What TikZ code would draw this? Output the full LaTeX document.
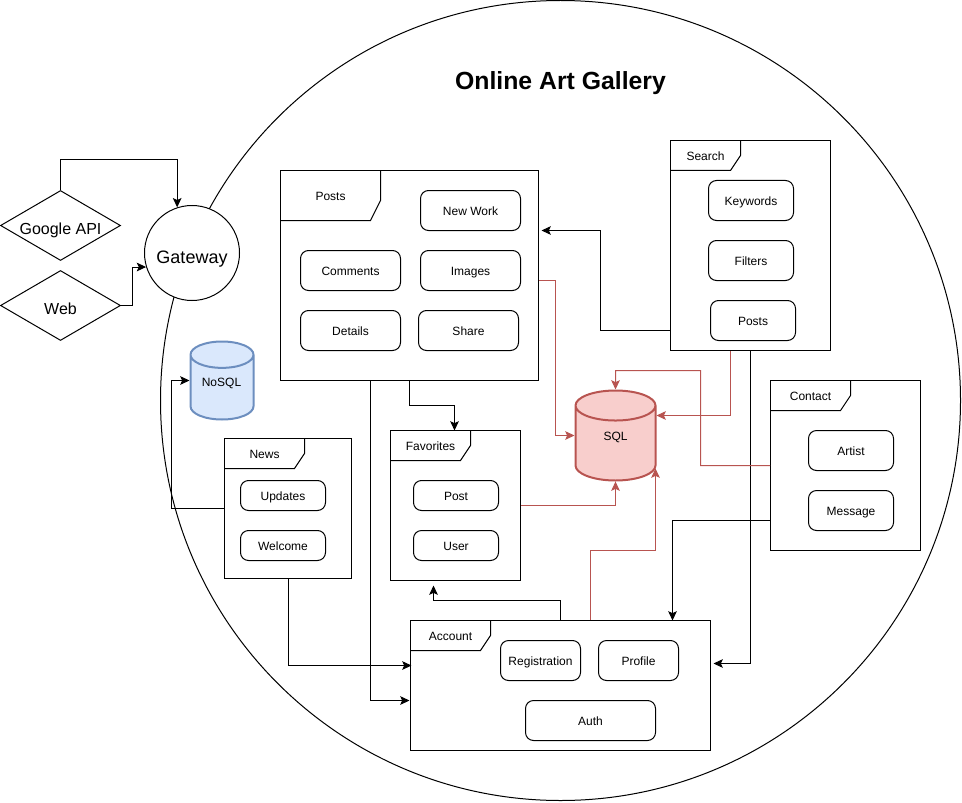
\documentclass[tikz,border=0pt]{standalone}
\usepackage{fontspec}
\setmainfont{Liberation Sans}
\usetikzlibrary{arrows.meta,shapes.geometric}
\definecolor{sqlred}{HTML}{B85450}
\definecolor{sqlfill}{HTML}{F8CECC}
\definecolor{nosqlblue}{HTML}{6C8EBF}
\definecolor{nosqlfill}{HTML}{DAE8FC}
\tikzset{
  small/.style={inner sep=0pt, font=\fontsize{9}{11}\selectfont, text height=7.8pt, text depth=1pt},
  panel/.style 2 args={draw, fill=white, inner sep=0pt, minimum width=#1*0.75pt, minimum height=#2*0.75pt},
  item/.style 2 args={draw, fill=white, rounded corners=6pt, small, minimum width=#1*0.75pt, minimum height=#2*0.75pt},
  entry/.style={diamond, draw, fill=white, inner sep=0pt, aspect=1.71, minimum width=90pt, minimum height=52.5pt, font=\fontsize{12}{14}\selectfont, text height=14.2pt, text depth=0pt},
  store/.style 2 args={cylinder, shape border rotate=90, anchor=shape center, aspect=#2, line width=1.5pt, inner sep=0pt, font=\fontsize{9}{11}\selectfont, minimum width=#1*0.75pt},
  conn/.style={-{Stealth[length=7pt,width=6.5pt,inset=1.5pt]}},
  redconn/.style={conn, sqlred},
}
\begin{document}
\begin{tikzpicture}[x=0.75pt, y=-0.75pt, line width=0.75pt]
\useasboundingbox (-0.5,-0.5) rectangle (961.5,801.5);
\node[circle, draw, inner sep=0pt, minimum size=600pt] (gallery) at (560,400) {};
\node[font=\bfseries\fontsize{18.6}{22}\selectfont, inner sep=0pt] (title) at (560,82.5) {Online Art Gallery};

\node[entry] (google) at (60,225) {Google API};
\node[entry] (web) at (60,305) {Web};
\node[circle, draw, fill=white, inner sep=0pt, minimum size=71.25pt, font=\fontsize{13.5}{16}\selectfont, text height=15.4pt, text depth=0pt] (gateway) at (191.5,252.5) {Gateway};

\node[store={63}{0.67}, draw=nosqlblue, fill=nosqlfill, minimum height=58.5pt] (nosql) at (221.5,380) {\phantom{NoSQL}};
\node[small] (nosqltext) at (221,381) {NoSQL};
\node[store={80}{1.25}, draw=sqlred, fill=sqlfill, minimum height=67.5pt] (sql) at (615,435) {\phantom{SQL}};
\node[small] (sqltext) at (615,435) {SQL};

% posts
\node[panel={258}{210}] (posts) at (409,275) {};
\draw (380,170) -- (380,200) -- (370,220) -- (280,220);
\node[small] (poststab) at (330,195) {Posts};
\node[item={100}{40}] (newwork) at (470,210) {New Work};
\node[item={100}{40}] (comments) at (350,270) {Comments};
\node[item={100}{40}] (images) at (470,270) {Images};
\node[item={100}{40}] (details) at (350,330) {Details};
\node[item={100}{40}] (share) at (468,330) {Share};

% search
\node[panel={160}{210}] (search) at (750,245) {};
\draw (740,140) -- (740,155) -- (730,170) -- (670,170);
\node[small] (searchtab) at (705,155) {Search};
\node[item={85}{40}] (keywords) at (750.5,200) {Keywords};
\node[item={85}{40}] (filters) at (750.5,260) {Filters};
\node[item={85}{40}] (searchposts) at (752.5,320) {Posts};

% contact
\node[panel={150}{170}] (contact) at (845,465) {};
\draw (850,380) -- (850,395) -- (840,410) -- (770,410);
\node[small] (contacttab) at (810,395) {Contact};
\node[item={85}{40}] (artist) at (850.5,450) {Artist};
\node[item={85}{40}] (message) at (850.5,510) {Message};

% news
\node[panel={127}{140}] (news) at (287.5,508) {};
\draw (304,438) -- (304,453) -- (294,468) -- (224,468);
\node[small] (newstab) at (264,453) {News};
\node[item={85}{30}] (updates) at (282.5,495) {Updates};
\node[item={85}{30}] (welcome) at (282.5,545) {Welcome};

% favorites
\node[panel={130}{150}] (favorites) at (455,505) {};
\draw (470,430) -- (470,445) -- (460,460) -- (390,460);
\node[small] (favoritestab) at (430,445) {Favorites};
\node[item={85}{30}] (favpost) at (455.5,495) {Post};
\node[item={85}{30}] (favuser) at (455.5,545) {User};

% account
\node[panel={300}{130}] (account) at (560,685) {};
\draw (490,620) -- (490,635) -- (480,650) -- (410,650);
\node[small] (accounttab) at (450,635) {Account};
\node[item={80}{40}] (registration) at (540,660) {Registration};
\node[item={80}{40}] (profile) at (638,660) {Profile};
\node[item={130}{40}] (auth) at (590,720) {Auth};

\draw[conn] (google.north) -- ++(0,-30) -| (gateway.108);
\draw[conn] (web.east) -- ++(11,0) |- (gateway.197);
\draw[conn] (news.west |- 0,508) -- (171,508) -- (171,380) -- (nosql.west |- nosql.shape center);
\draw[conn] (posts.south) -- (409,405) -- (454,405) -- (454,430);
\draw[conn] (370,380) -- (370,700) -- (409,700);
\draw[redconn] (posts.east |- 0,280) -- (555,280) -- (555,435) -- (sql.west |- sql.shape center);
\draw[conn] (288,578) -- (288,665) -- (411,665);
\draw[redconn] (favorites.east) -- (615,505) -- (sql.south);
\draw[conn] (account.north -| 560,0) -- (560,600) -- (433,600) -- (433,585);
\draw[redconn] (account.north -| 590,0) -- (590,550) -- (655,550) -- (655,468);
\draw[conn] (search.west |- 0,330) -- (600,330) -- (600,230) -- (541,230);
\draw[redconn] (search.south -| 730,0) -- (730,415) -- (656,415);
\draw[conn] (search.south) -- (750,663) -- (713,663);
\draw[redconn] (contact.west) -- (700,465) -- (700,370) -- (615,370) -- (sql.north);
\draw[conn] (contact.west |- 0,520) -- (672,520) -- (672,620);
\end{tikzpicture}
\end{document}
